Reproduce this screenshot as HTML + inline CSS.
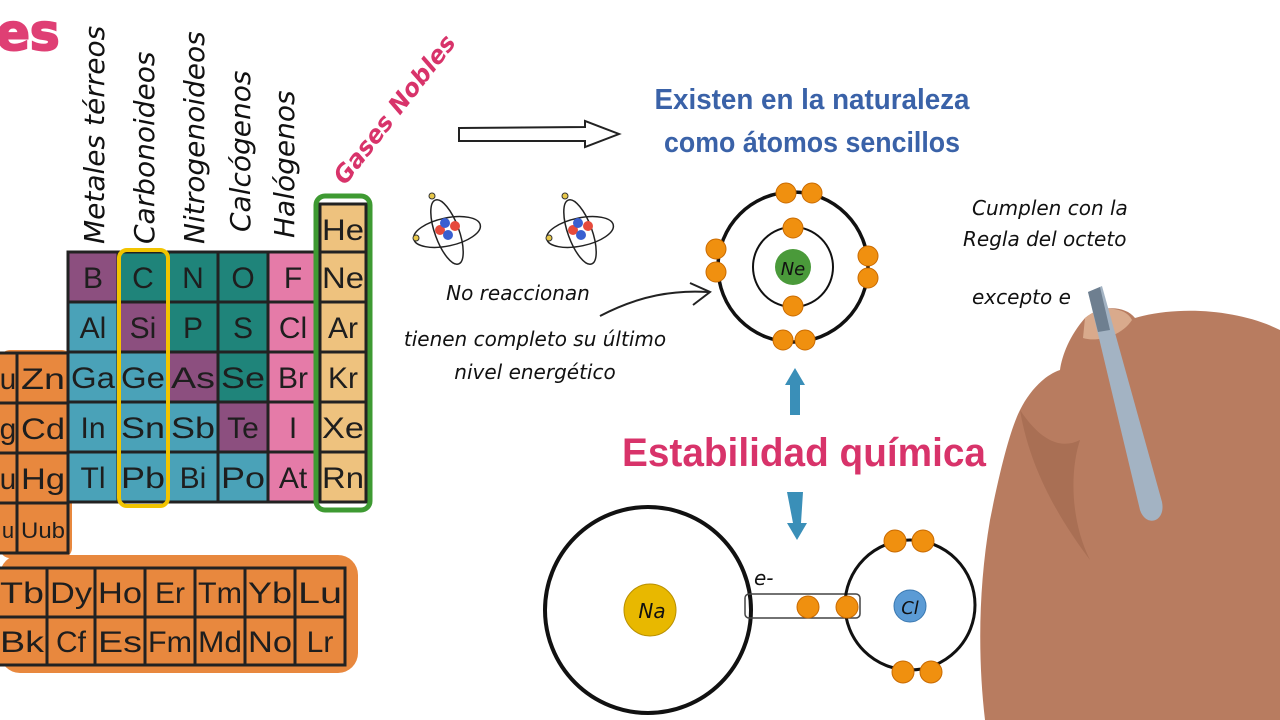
<!DOCTYPE html>
<html><head><meta charset="utf-8"><style>
html,body{margin:0;padding:0;background:#fff;}
svg{display:block;}
.el{font-family:"Liberation Sans",sans-serif;font-size:30px;fill:#1e1e1e;text-anchor:middle;}
.hw{font-family:"DejaVu Sans","Liberation Sans",sans-serif;font-style:italic;fill:#111;}
.vl{font-family:"DejaVu Sans","Liberation Sans",sans-serif;font-style:italic;font-size:28px;fill:#111;}
</style></head><body>
<svg width="1280" height="720" viewBox="0 0 1280 720" xmlns="http://www.w3.org/2000/svg">
<rect width="1280" height="720" fill="#fff"/>
<text x="-4" y="50" font-family="DejaVu Sans,sans-serif" font-weight="bold" font-size="50" fill="#df3f74" stroke="#df3f74" stroke-width="2">es</text>

<!-- vertical labels -->
<text class="vl" transform="translate(104,244) rotate(-90)">Metales térreos</text>
<text class="vl" transform="translate(154,244) rotate(-90)">Carbonoideos</text>
<text class="vl" transform="translate(204,244) rotate(-90)">Nitrogenoideos</text>
<text class="vl" transform="translate(250,232) rotate(-90)">Calcógenos</text>
<text class="vl" transform="translate(294,238) rotate(-90)">Halógenos</text>
<text transform="translate(345,186) rotate(-52)" font-family="DejaVu Sans,sans-serif" font-weight="bold" font-style="italic" font-size="24" fill="#d8336a">Gases Nobles</text>

<!-- orange blobs -->
<rect x="0" y="350" width="72" height="208" rx="10" fill="#e8883e"/>
<rect x="0" y="555" width="358" height="118" rx="20" fill="#e8883e"/>

<g stroke="#222" stroke-width="3">
<rect x="-30" y="353" width="47" height="50" fill="#e8883e"/><rect x="17" y="353" width="51" height="50" fill="#e8883e"/>
<rect x="-30" y="403" width="47" height="50" fill="#e8883e"/><rect x="17" y="403" width="51" height="50" fill="#e8883e"/>
<rect x="-30" y="453" width="47" height="50" fill="#e8883e"/><rect x="17" y="453" width="51" height="50" fill="#e8883e"/>
<rect x="-30" y="503" width="47" height="50" fill="#e8883e"/><rect x="17" y="503" width="51" height="50" fill="#e8883e"/>
<rect x="68" y="252" width="50" height="50" fill="#8c4f7f"/><rect x="118" y="252" width="50" height="50" fill="#1f847a"/><rect x="168" y="252" width="50" height="50" fill="#1f847a"/><rect x="218" y="252" width="50" height="50" fill="#1f847a"/><rect x="268" y="252" width="50" height="50" fill="#e57ba8"/>
<rect x="68" y="302" width="50" height="50" fill="#4aa2b8"/><rect x="118" y="302" width="50" height="50" fill="#8c4f7f"/><rect x="168" y="302" width="50" height="50" fill="#1f847a"/><rect x="218" y="302" width="50" height="50" fill="#1f847a"/><rect x="268" y="302" width="50" height="50" fill="#e57ba8"/>
<rect x="68" y="352" width="50" height="50" fill="#4aa2b8"/><rect x="118" y="352" width="50" height="50" fill="#4aa2b8"/><rect x="168" y="352" width="50" height="50" fill="#8c4f7f"/><rect x="218" y="352" width="50" height="50" fill="#1f847a"/><rect x="268" y="352" width="50" height="50" fill="#e57ba8"/>
<rect x="68" y="402" width="50" height="50" fill="#4aa2b8"/><rect x="118" y="402" width="50" height="50" fill="#4aa2b8"/><rect x="168" y="402" width="50" height="50" fill="#4aa2b8"/><rect x="218" y="402" width="50" height="50" fill="#8c4f7f"/><rect x="268" y="402" width="50" height="50" fill="#e57ba8"/>
<rect x="68" y="452" width="50" height="50" fill="#4aa2b8"/><rect x="118" y="452" width="50" height="50" fill="#4aa2b8"/><rect x="168" y="452" width="50" height="50" fill="#4aa2b8"/><rect x="218" y="452" width="50" height="50" fill="#4aa2b8"/><rect x="268" y="452" width="50" height="50" fill="#e57ba8"/>
<rect x="320" y="204" width="46" height="48" fill="#eec27e"/><rect x="320" y="252" width="46" height="50" fill="#eec27e"/><rect x="320" y="302" width="46" height="50" fill="#eec27e"/><rect x="320" y="352" width="46" height="50" fill="#eec27e"/><rect x="320" y="402" width="46" height="50" fill="#eec27e"/><rect x="320" y="452" width="46" height="50" fill="#eec27e"/>
<rect x="-3" y="568" width="50" height="49" fill="#e8883e"/><rect x="47" y="568" width="48" height="49" fill="#e8883e"/><rect x="95" y="568" width="50" height="49" fill="#e8883e"/><rect x="145" y="568" width="50" height="49" fill="#e8883e"/><rect x="195" y="568" width="50" height="49" fill="#e8883e"/><rect x="245" y="568" width="50" height="49" fill="#e8883e"/><rect x="295" y="568" width="50" height="49" fill="#e8883e"/>
<rect x="-3" y="617" width="50" height="48" fill="#e8883e"/><rect x="47" y="617" width="48" height="48" fill="#e8883e"/><rect x="95" y="617" width="50" height="48" fill="#e8883e"/><rect x="145" y="617" width="50" height="48" fill="#e8883e"/><rect x="195" y="617" width="50" height="48" fill="#e8883e"/><rect x="245" y="617" width="50" height="48" fill="#e8883e"/><rect x="295" y="617" width="50" height="48" fill="#e8883e"/>
</g>
<rect x="119" y="250" width="49" height="256" rx="8" fill="none" stroke="#f2c400" stroke-width="4"/>
<rect x="316" y="196" width="54" height="314" rx="9" fill="none" stroke="#3e9a32" stroke-width="5"/>

<g class="el">
<text x="8" y="389">u</text><text x="43" y="389" textLength="44" lengthAdjust="spacingAndGlyphs">Zn</text>
<text x="8" y="439">g</text><text x="43" y="439" textLength="44" lengthAdjust="spacingAndGlyphs">Cd</text>
<text x="8" y="489">u</text><text x="43" y="489" textLength="44" lengthAdjust="spacingAndGlyphs">Hg</text>
<text x="8" y="538" style="font-size:22px">u</text><text x="43" y="538" style="font-size:22px" textLength="44" lengthAdjust="spacingAndGlyphs">Uub</text>
<text x="93" y="288">B</text><text x="143" y="288">C</text><text x="193" y="288">N</text><text x="243" y="288">O</text><text x="293" y="288">F</text>
<text x="93" y="338">Al</text><text x="143" y="338">Si</text><text x="193" y="338">P</text><text x="243" y="338">S</text><text x="293" y="338">Cl</text>
<text x="93" y="388" textLength="44" lengthAdjust="spacingAndGlyphs">Ga</text><text x="143" y="388" textLength="44" lengthAdjust="spacingAndGlyphs">Ge</text><text x="193" y="388" textLength="44" lengthAdjust="spacingAndGlyphs">As</text><text x="243" y="388" textLength="44" lengthAdjust="spacingAndGlyphs">Se</text><text x="293" y="388">Br</text>
<text x="93" y="438">In</text><text x="143" y="438" textLength="44" lengthAdjust="spacingAndGlyphs">Sn</text><text x="193" y="438" textLength="44" lengthAdjust="spacingAndGlyphs">Sb</text><text x="243" y="438">Te</text><text x="293" y="438">I</text>
<text x="93" y="488">Tl</text><text x="143" y="488" textLength="44" lengthAdjust="spacingAndGlyphs">Pb</text><text x="193" y="488">Bi</text><text x="243" y="488" textLength="44" lengthAdjust="spacingAndGlyphs">Po</text><text x="293" y="488">At</text>
<text x="343" y="240" textLength="42" lengthAdjust="spacingAndGlyphs">He</text><text x="343" y="288" textLength="42" lengthAdjust="spacingAndGlyphs">Ne</text><text x="343" y="338">Ar</text><text x="343" y="388">Kr</text><text x="343" y="438" textLength="42" lengthAdjust="spacingAndGlyphs">Xe</text><text x="343" y="488" textLength="42" lengthAdjust="spacingAndGlyphs">Rn</text>
<text x="22" y="603" textLength="44" lengthAdjust="spacingAndGlyphs">Tb</text><text x="71" y="603" textLength="42" lengthAdjust="spacingAndGlyphs">Dy</text><text x="120" y="603" textLength="44" lengthAdjust="spacingAndGlyphs">Ho</text><text x="170" y="603">Er</text><text x="220" y="603" textLength="44" lengthAdjust="spacingAndGlyphs">Tm</text><text x="270" y="603" textLength="44" lengthAdjust="spacingAndGlyphs">Yb</text><text x="320" y="603" textLength="44" lengthAdjust="spacingAndGlyphs">Lu</text>
<text x="22" y="652" textLength="44" lengthAdjust="spacingAndGlyphs">Bk</text><text x="71" y="652">Cf</text><text x="120" y="652" textLength="44" lengthAdjust="spacingAndGlyphs">Es</text><text x="170" y="652" textLength="44" lengthAdjust="spacingAndGlyphs">Fm</text><text x="220" y="652" textLength="44" lengthAdjust="spacingAndGlyphs">Md</text><text x="270" y="652" textLength="44" lengthAdjust="spacingAndGlyphs">No</text><text x="320" y="652">Lr</text>
</g>

<path d="M459,128 L585,127 L585,121 L619,134 L585,147 L585,141 L459,141 Z" fill="#fff" stroke="#222" stroke-width="2"/>

<g font-family="Liberation Sans Narrow,Liberation Sans,sans-serif" font-weight="bold" font-size="29" fill="#3a62a8" text-anchor="middle">
<text x="812" y="109" textLength="315" lengthAdjust="spacingAndGlyphs">Existen en la naturaleza</text>
<text x="812" y="152" textLength="296" lengthAdjust="spacingAndGlyphs">como átomos sencillos</text>
</g>

<g fill="none" stroke="#222" stroke-width="1.5">
<ellipse cx="447" cy="232" rx="34" ry="14" transform="rotate(-12 447 232)"/>
<ellipse cx="447" cy="232" rx="34" ry="12" transform="rotate(-110 447 232)"/>
<ellipse cx="580" cy="232" rx="34" ry="14" transform="rotate(-12 580 232)"/>
<ellipse cx="580" cy="232" rx="34" ry="12" transform="rotate(-110 580 232)"/>
</g>
<circle cx="432" cy="196" r="3" fill="#e8c84a" stroke="#333"/><circle cx="416" cy="238" r="3" fill="#e8c84a" stroke="#333"/>
<circle cx="440" cy="230" r="5" fill="#e64a3c"/><circle cx="455" cy="226" r="5" fill="#e64a3c"/><circle cx="445" cy="223" r="5" fill="#3a5fd0"/><circle cx="448" cy="235" r="5" fill="#3a5fd0"/>
<circle cx="565" cy="196" r="3" fill="#e8c84a" stroke="#333"/><circle cx="549" cy="238" r="3" fill="#e8c84a" stroke="#333"/>
<circle cx="573" cy="230" r="5" fill="#e64a3c"/><circle cx="588" cy="226" r="5" fill="#e64a3c"/><circle cx="578" cy="223" r="5" fill="#3a5fd0"/><circle cx="581" cy="235" r="5" fill="#3a5fd0"/>

<g class="hw" text-anchor="middle" font-size="20">
<text x="518" y="300">No reaccionan</text>
<text x="535" y="346">tienen completo su último</text>
<text x="535" y="379">nivel energético</text>
</g>
<path d="M600,316 C640,295 675,290 708,292" fill="none" stroke="#222" stroke-width="2"/>
<path d="M690,283 L710,292 L693,305" fill="none" stroke="#222" stroke-width="2"/>

<circle cx="793" cy="267" r="75" fill="none" stroke="#111" stroke-width="3.5"/>
<circle cx="793" cy="267" r="40" fill="none" stroke="#111" stroke-width="2"/>
<circle cx="793" cy="267" r="18" fill="#4a9a3a"/>
<text x="793" y="275" text-anchor="middle" class="hw" font-size="18">Ne</text>
<g fill="#f0900f" stroke="#c96a00" stroke-width="1">
<circle cx="786" cy="193" r="10"/><circle cx="812" cy="193" r="10"/>
<circle cx="716" cy="249" r="10"/><circle cx="716" cy="272" r="10"/>
<circle cx="868" cy="256" r="10"/><circle cx="868" cy="278" r="10"/>
<circle cx="783" cy="340" r="10"/><circle cx="805" cy="340" r="10"/>
<circle cx="793" cy="228" r="10"/><circle cx="793" cy="306" r="10"/>
</g>

<path d="M790,415 L790,385 L785,385 L795,368 L805,385 L800,385 L800,415 Z" fill="#3a8fb8"/>
<path d="M787,492 L803,492 L801,523 L807,523 L797,540 L787,523 L793,523 Z" fill="#3a8fb8"/>

<text x="804" y="466" text-anchor="middle" font-family="Liberation Sans,sans-serif" font-weight="bold" font-size="40" fill="#d8336a" textLength="364" lengthAdjust="spacingAndGlyphs">Estabilidad química</text>

<circle cx="648" cy="610" r="103" fill="none" stroke="#111" stroke-width="4"/>
<circle cx="650" cy="610" r="26" fill="#e8b800" stroke="#b88f00"/>
<text x="652" y="618" text-anchor="middle" class="hw" font-size="20">Na</text>
<text x="754" y="585" class="hw" font-size="20">e-</text>
<rect x="745" y="594" width="115" height="24" rx="4" fill="none" stroke="#444" stroke-width="1.5"/>
<circle cx="910" cy="605" r="65" fill="none" stroke="#111" stroke-width="3"/>
<circle cx="910" cy="606" r="16" fill="#5b9bd5" stroke="#3a78b0"/>
<text x="910" y="614" text-anchor="middle" class="hw" font-size="18">Cl</text>
<g fill="#f0900f" stroke="#c96a00" stroke-width="1">
<circle cx="895" cy="541" r="11"/><circle cx="923" cy="541" r="11"/>
<circle cx="903" cy="672" r="11"/><circle cx="931" cy="672" r="11"/>
<circle cx="808" cy="607" r="11"/><circle cx="847" cy="607" r="11"/>
</g>

<g class="hw" font-size="20">
<text x="972" y="215">Cumplen con la</text>
<text x="963" y="246">Regla del octeto</text>
<text x="972" y="304">excepto e</text>
</g>

<!-- hand -->
<path d="M1085,318 C1100,305 1125,305 1135,318 C1180,305 1240,310 1280,330 L1280,720 L985,720 C978,660 978,590 990,520 C1000,470 1010,430 1020,410 C1030,390 1045,375 1060,370 C1062,355 1070,335 1085,318 Z" fill="#b87c60"/>
<path d="M1085,318 C1100,305 1125,306 1132,320 C1120,338 1095,342 1083,338 Z" fill="#d9aa8c"/>
<path d="M1020,410 C1040,440 1060,450 1080,440 C1070,470 1070,520 1090,560 C1060,520 1030,470 1020,410 Z" fill="#9a6248" opacity="0.5"/>
<path d="M1088,292 L1102,286 L1162,502 C1166,522 1146,528 1140,510 Z" fill="#a3b3c3"/>
<path d="M1088,292 L1100,287 L1110,330 L1098,332 Z" fill="#6e7f90"/>
</svg>
</body></html>
